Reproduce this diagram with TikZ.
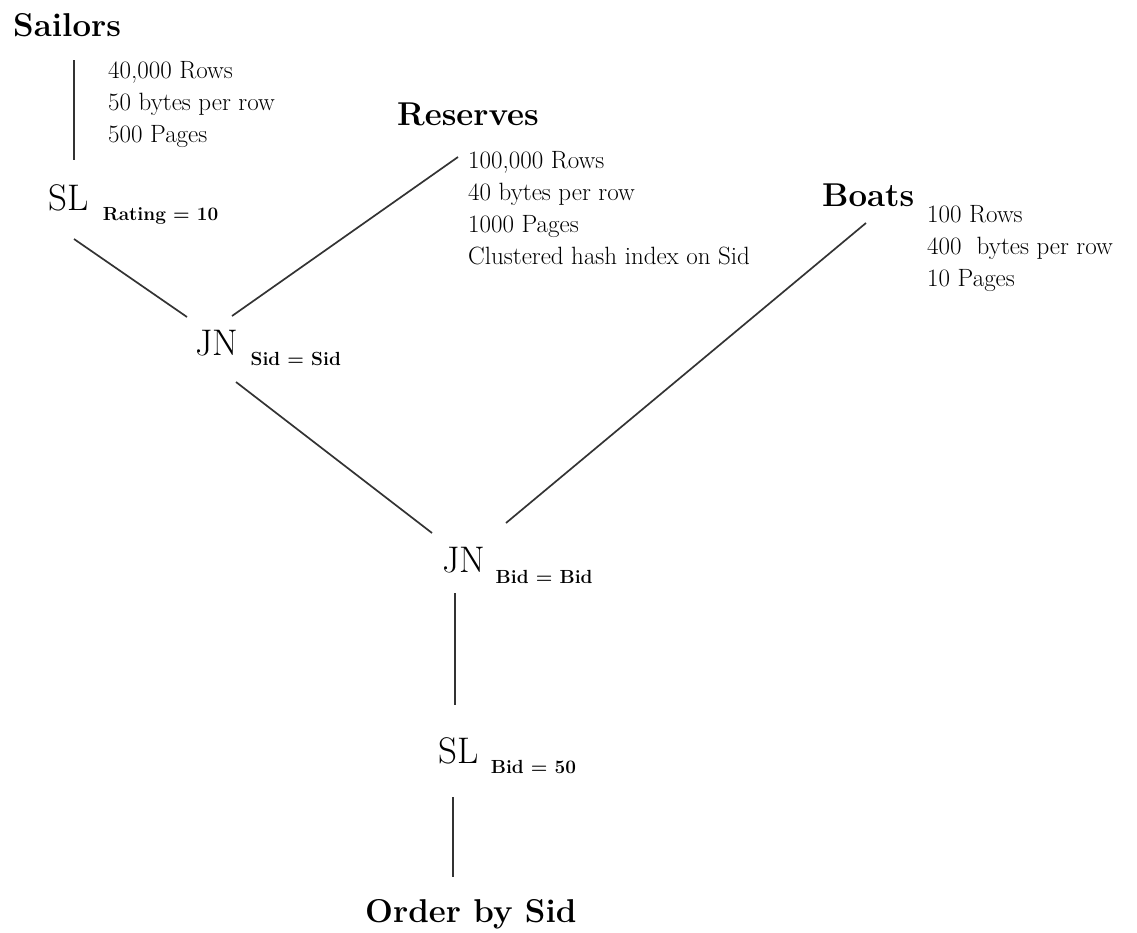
\documentclass[tikz,border=0pt]{standalone}
\usepackage{tikz}
\usetikzlibrary{positioning,calc}

\begin{document}
\begin{tikzpicture}[
  x=1pt,y=-1pt,
  relname/.style={inner sep=0pt,anchor=base west,
                  font=\fontsize{33}{38}\selectfont\bfseries},
  stats/.style={inner sep=0pt,anchor=base west,align=left,
                font=\fontsize{25}{32}\selectfont},
  op/.style={inner sep=0pt,anchor=base west,font=\fontsize{37}{44}\selectfont},
  cond/.style={inner sep=0pt,font=\fontsize{19}{22}\selectfont\bfseries},
  edge/.style={line width=1.7pt,color=black!80},
]
  \useasboundingbox (0,0) rectangle (1137,932);

  % base relations and their statistics (stats sit on their last baseline)
  \node[relname] (sailors)  at (13,36)  {Sailors};
  \node[stats]   (sailstat) at (108,142) {40,000 Rows\\50 bytes per row\\500 Pages};
  \node[relname] (reserves) at (397,125) {Reserves};
  \node[stats]   (resstat)  at (468,264)
    {100,000 Rows\\40 bytes per row\\1000 Pages\\Clustered hash index on Sid};
  \node[relname] (boats)    at (822,206) {Boats};
  \node[stats]   (boatstat) at (927,286) {100 Rows\\400\ \ bytes per row\\10 Pages};

  % operators
  \node[op] (sl1) at (48,210)  {SL};
  \node[cond,right=14pt of sl1.base east,anchor=base west,yshift=-10pt] (sl1c) {Rating = 10};
  \node[op] (jn1) at (195,355) {JN};
  \node[cond,right=12pt of jn1.base east,anchor=base west,yshift=-10pt] (jn1c) {Sid = Sid};
  \node[op] (jn2) at (442,572) {JN};
  \node[cond,right=10pt of jn2.base east,anchor=base west,yshift=-11pt] (jn2c) {Bid = Bid};
  \node[op] (sl2) at (438,763) {SL};
  \node[cond,right=12pt of sl2.base east,anchor=base west,yshift=-10pt] (sl2c) {Bid = 50};
  \node[relname] (order) at (365,922) {Order by Sid};

  \foreach \a/\pa/\b/\pb in {
      sailors/{61,24}/sl1/{26,-50},
      sl1/{26,29}/jn1/{-8,-38},
      reserves/{61,32}/jn1/{37,-39},
      jn1/{41,27}/jn2/{-10,-39},
      boats/{44,17}/jn2/{64,-49},
      jn2/{13,21}/sl2/{17,-58},
      sl2/{15,34}/order/{88,-45}}
    \draw[edge] ($(\a.base west)+(\pa)$) -- ($(\b.base west)+(\pb)$);
\end{tikzpicture}
\end{document}
